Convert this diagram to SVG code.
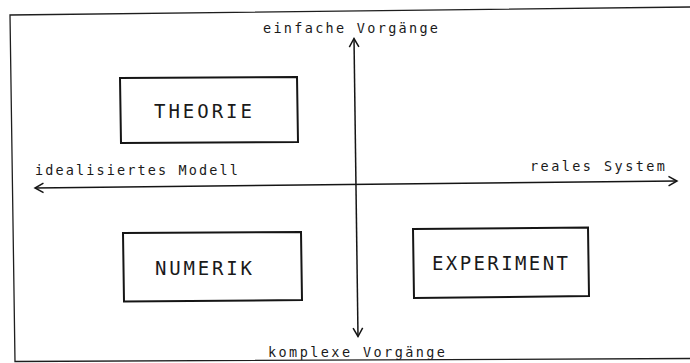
<svg xmlns="http://www.w3.org/2000/svg" width="690" height="363" viewBox="0 0 690 363">
  <style>
    .frame { fill: none; stroke: #1e1e1e; stroke-width: 1.3; }
    .box { fill: none; stroke: #151515; stroke-width: 2; stroke-linejoin: miter; }
    .axis { fill: none; stroke: #151515; stroke-width: 1.5; }
    .big { font-family: "DejaVu Sans Mono", "Liberation Mono", monospace; font-size: 19px; fill: #1a1a1a; }
    .lbl { font-family: "DejaVu Sans Mono", "Liberation Mono", monospace; font-size: 13.5px; fill: #1a1a1a; }
  </style>
  <defs>
    <marker id="chev" viewBox="-10 -6 12 12" markerWidth="12" markerHeight="12" refX="0" refY="0" orient="auto-start-reverse" markerUnits="userSpaceOnUse">
      <path d="M-8.5,-4.8 L0,0 L-8.5,4.8" fill="none" stroke="#151515" stroke-width="1.5"/>
    </marker>
  </defs>
  <rect width="690" height="363" fill="#ffffff"/>

  <g id="frame">
    <polyline class="frame" points="692,7 10,15 15,361.5 692,358.5"/>
  </g>

  <g id="connectors">
    <path id="axis-vertical" class="axis" d="M354,38.5 L358,336.5" marker-start="url(#chev)" marker-end="url(#chev)"/>
    <path id="axis-horizontal" class="axis" d="M35,188 L677,181" marker-start="url(#chev)" marker-end="url(#chev)"/>
  </g>

  <g id="axis-labels">
    <text class="lbl" x="263" y="33" textLength="175" lengthAdjust="spacing">einfache Vorgänge</text>
    <text class="lbl" x="35" y="175" textLength="203" lengthAdjust="spacing">idealisiertes Modell</text>
    <text class="lbl" x="530" y="171" textLength="135" lengthAdjust="spacing">reales System</text>
    <text class="lbl" x="268" y="357" textLength="177" lengthAdjust="spacing">komplexe Vorgänge</text>
  </g>

  <g id="node-theorie">
    <polygon class="box" points="120,78 297,77 298,142 121,143"/>
    <text class="big" x="154" y="118" textLength="98" lengthAdjust="spacing">THEORIE</text>
  </g>

  <g id="node-numerik">
    <polygon class="box" points="123,233 301,232 302,300 124,301.5"/>
    <text class="big" x="155" y="275" textLength="97" lengthAdjust="spacing">NUMERIK</text>
  </g>

  <g id="node-experiment">
    <polygon class="box" points="413,229 588,227.5 589,296 414,298"/>
    <text class="big" x="432" y="269.5" textLength="136" lengthAdjust="spacing">EXPERIMENT</text>
  </g>
</svg>
